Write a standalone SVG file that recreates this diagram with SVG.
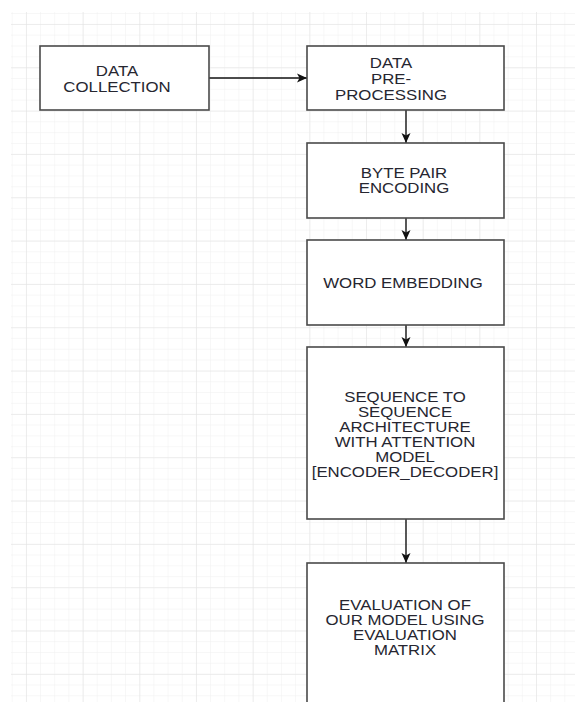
<svg xmlns="http://www.w3.org/2000/svg" width="575" height="702" viewBox="0 0 575 702">
<style>
.box{fill:#ffffff;stroke:#4a4a4a;stroke-width:1.6}
.lbl{font-family:"Liberation Sans",Arial,sans-serif;font-size:14px;fill:#262630;text-anchor:middle}
.edge{stroke:#111;stroke-width:1.4;fill:none}
</style>
<defs>
<pattern id="minor" x="11.7" y="13" width="14.17" height="10.83" patternUnits="userSpaceOnUse">
<path d="M0,0 V10.83 M0,0 H14.17" stroke="#f0f0f0" stroke-width="1" fill="none"/>
</pattern>
<pattern id="major" x="26" y="24" width="56.67" height="43.33" patternUnits="userSpaceOnUse">
<path d="M0,0 V43.33 M0,0 H56.67" stroke="#e2e2e2" stroke-width="1" fill="none"/>
</pattern>
<marker id="arr" viewBox="0 0 10 10" refX="10" refY="5" markerWidth="10" markerHeight="10" markerUnits="userSpaceOnUse" orient="auto">
<path d="M0,0.5 L10,5 L0,9.5 L2.5,5 z" fill="#111"/>
</marker>
</defs>
<rect width="575" height="702" fill="#ffffff"/>
<rect x="11" y="12" width="564" height="690" fill="url(#minor)"/>
<rect x="11" y="12" width="564" height="690" fill="url(#major)"/>

<g id="edges">
<line class="edge" x1="209" y1="78" x2="307" y2="78" marker-end="url(#arr)"/>
<line class="edge" x1="406" y1="110" x2="406" y2="143" marker-end="url(#arr)"/>
<line class="edge" x1="406" y1="218" x2="406" y2="240" marker-end="url(#arr)"/>
<line class="edge" x1="406" y1="325" x2="406" y2="347" marker-end="url(#arr)"/>
<line class="edge" x1="406" y1="519" x2="406" y2="563" marker-end="url(#arr)"/>
</g>

<g id="data-collection">
<rect class="box" x="40" y="46" width="169" height="64"/>
<g transform="translate(117,0) scale(1.2,1)">
<text class="lbl" x="0" y="76">DATA</text>
<text class="lbl" x="0" y="92">COLLECTION</text>
</g>
</g>

<g id="data-preprocessing">
<rect class="box" x="307" y="46" width="197" height="64"/>
<g transform="translate(391,0) scale(1.2,1)">
<text class="lbl" x="0" y="68">DATA</text>
<text class="lbl" x="0" y="84">PRE-</text>
<text class="lbl" x="0" y="100">PROCESSING</text>
</g>
</g>

<g id="byte-pair-encoding">
<rect class="box" x="307" y="143" width="197" height="75"/>
<g transform="translate(404,0) scale(1.2,1)">
<text class="lbl" x="0" y="178">BYTE PAIR</text>
<text class="lbl" x="0" y="193">ENCODING</text>
</g>
</g>

<g id="word-embedding">
<rect class="box" x="307" y="240" width="197" height="85"/>
<g transform="translate(403,0) scale(1.2,1)">
<text class="lbl" x="0" y="288">WORD EMBEDDING</text>
</g>
</g>

<g id="seq2seq">
<rect class="box" x="307" y="347" width="197" height="172"/>
<g transform="translate(405,0) scale(1.2,1)">
<text class="lbl" x="0" y="402">SEQUENCE TO</text>
<text class="lbl" x="0" y="417">SEQUENCE</text>
<text class="lbl" x="0" y="432">ARCHITECTURE</text>
<text class="lbl" x="0" y="447">WITH ATTENTION</text>
<text class="lbl" x="0" y="462">MODEL</text>
<text class="lbl" x="0" y="477">[ENCODER_DECODER]</text>
</g>
</g>

<g id="evaluation">
<rect class="box" x="307" y="563" width="197" height="160"/>
<g transform="translate(405,0) scale(1.2,1)">
<text class="lbl" x="0" y="610">EVALUATION OF</text>
<text class="lbl" x="0" y="625">OUR MODEL USING</text>
<text class="lbl" x="0" y="640">EVALUATION</text>
<text class="lbl" x="0" y="655">MATRIX</text>
</g>
</g>
</svg>
